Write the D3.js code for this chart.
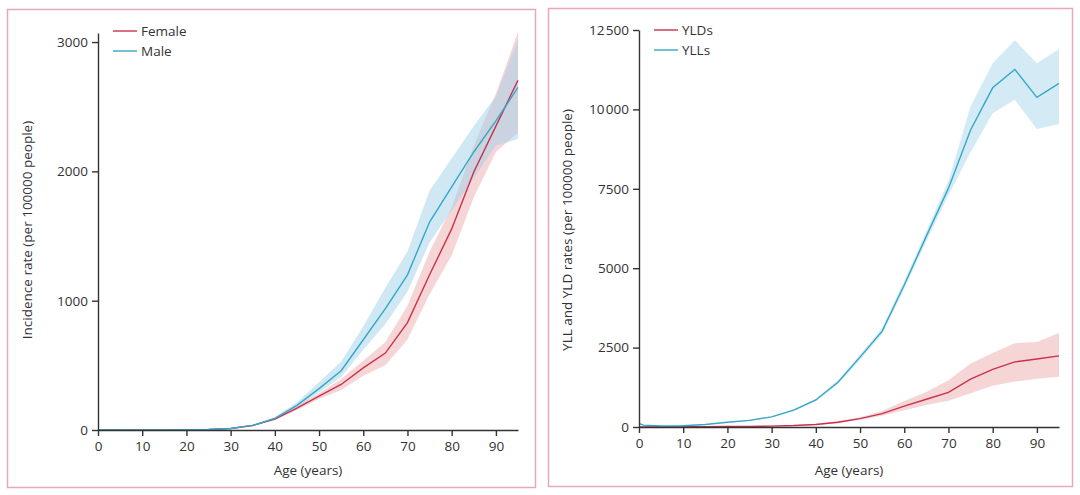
<!DOCTYPE html>
<html>
<head>
<meta charset="utf-8">
<script src="https://cdn.jsdelivr.net/npm/d3@7"></script>
<style>
body { margin:0; background:#fff; }
text { font-family: "Open Sans", "DejaVu Sans", sans-serif; fill:#333; }
</style>
</head>
<body>
<svg id="chart"></svg>
<script>
// ages (years) at each point
var ages = [0, 1, 5, 10, 15, 20, 25, 30, 35, 40, 45, 50, 55, 60, 65, 70, 75, 80, 85, 90, 95];

// incidence per 100000
var female    = [3, 2, 1, 1, 1, 2, 4, 12, 35, 85, 170, 262, 352, 480, 595, 830, 1200, 1555, 1995, 2350, 2705];
var femaleLow = [2, 1, 0, 0, 0, 1, 3, 10, 31, 78, 155, 240, 310, 420, 500, 700, 1050, 1350, 1800, 2150, 2300];
var femaleUp  = [4, 3, 2, 2, 2, 3, 5, 14, 39, 92, 185, 285, 395, 535, 680, 960, 1380, 1720, 2200, 2600, 3080];
var male      = [3, 2, 1, 1, 1, 2, 4, 12, 36, 90, 190, 320, 458, 698, 938, 1200, 1608, 1880, 2150, 2390, 2650];
var maleLow   = [2, 1, 0, 0, 0, 1, 3, 10, 32, 82, 172, 290, 410, 620, 820, 1070, 1450, 1700, 1950, 2200, 2250];
var maleUp    = [4, 3, 2, 2, 2, 3, 5, 14, 40, 98, 215, 370, 530, 800, 1100, 1380, 1850, 2100, 2350, 2580, 3020];

// YLD / YLL rates per 100000
var ylds    = [5, 5, 6, 8, 10, 14, 20, 28, 45, 80, 150, 265, 420, 655, 875, 1090, 1510, 1815, 2050, 2140, 2240];
var yldsLow = [3, 3, 4, 5, 7, 10, 14, 20, 34, 62, 120, 225, 355, 530, 690, 830, 1060, 1300, 1430, 1520, 1580];
var yldsUp  = [8, 8, 9, 11, 14, 19, 27, 37, 58, 100, 185, 310, 500, 820, 1100, 1470, 2000, 2330, 2640, 2680, 2960];
var ylls    = [110, 60, 30, 40, 80, 150, 210, 320, 530, 850, 1410, 2200, 3020, 4470, 6010, 7520, 9350, 10680, 11260, 10380, 10820];
var yllsLow = [95, 52, 26, 35, 72, 138, 195, 300, 500, 810, 1350, 2120, 2920, 4350, 5850, 7300, 8650, 9880, 10300, 9380, 9540];
var yllsUp  = [125, 68, 34, 45, 88, 162, 225, 340, 560, 890, 1470, 2280, 3120, 4600, 6170, 7750, 10100, 11450, 12180, 11450, 11900];

var xTicks = [0, 10, 20, 30, 40, 50, 60, 70, 80, 90];
var leftTicks = [0, 1000, 2000, 3000];
var rightTicks = [0, 2500, 5000, 7500, 10000, 12500];

var red = "#c8324e", blue = "#35a7c7";

var svg = d3.select("#chart").attr("width", 1080).attr("height", 495);

// pink frames
svg.append("rect").attr("x", 7.5).attr("y", 9.5).attr("width", 528).attr("height", 478)
    .attr("fill", "none").attr("stroke", "#e6a8bf").attr("stroke-width", 1.5);
svg.append("rect").attr("x", 548.5).attr("y", 8.5).attr("width", 524).attr("height", 478)
    .attr("fill", "none").attr("stroke", "#e6a8bf").attr("stroke-width", 1.5);

function fmt(d){
    var s = String(d);
    if (d >= 10000) s = s.slice(0, s.length - 3) + "\u200a" + s.slice(-3);
    return s;
}

function panel(opt){
    var g = svg.append("g");
    var x = d3.scaleLinear().domain([0, 95]).range(opt.xr);
    var y = d3.scaleLinear().domain([0, opt.ymax]).range([opt.y0, opt.ytop]);

    // bands first
    opt.series.forEach(function(s){
        var area = d3.area()
            .x(function(d, i){ return x(ages[i]); })
            .y0(function(d, i){ return y(s.low[i]); })
            .y1(function(d, i){ return y(s.up[i]); });
        g.append("path").datum(s.vals).attr("d", area)
            .attr("fill", s.band).attr("fill-opacity", s.op);
    });
    opt.series.forEach(function(s){
        var line = d3.line()
            .x(function(d, i){ return x(ages[i]); })
            .y(function(d){ return y(d); });
        g.append("path").datum(s.vals).attr("d", line)
            .attr("fill", "none").attr("stroke", s.color).attr("stroke-width", 1.4);
    });

    var ax = g.append("g").attr("transform", "translate(0," + opt.y0 + ")")
        .call(d3.axisBottom(x).tickValues(xTicks).tickSize(6).tickPadding(5).tickSizeOuter(0));
    var ay = g.append("g").attr("transform", "translate(" + opt.xr[0] + ",0)")
        .call(d3.axisLeft(y).tickValues(opt.yTicks).tickFormat(fmt).tickSize(6).tickPadding(4).tickSizeOuter(0));
    [ax, ay].forEach(function(a){
        a.selectAll("path,line").attr("stroke", "#333").attr("stroke-width", 1.4);
        a.selectAll("text").style("font-family", "'Open Sans', sans-serif").style("font-size", "13.5px").attr("fill", "#333");
    });

    g.append("text").attr("x", (opt.xr[0] + opt.xr[1]) / 2).attr("y", 475)
        .attr("text-anchor", "middle").style("font-size", "13.5px").text("Age (years)");
    g.append("text").attr("transform", "translate(" + opt.titleX + ",230) rotate(-90)")
        .attr("text-anchor", "middle").style("font-size", "13.5px").text(opt.title);

    // legend
    opt.series.forEach(function(s, i){
        var ly = opt.legY + i * 20;
        g.append("line").attr("x1", opt.xr[0] + 15).attr("x2", opt.xr[0] + 39)
            .attr("y1", ly).attr("y2", ly).attr("stroke", s.color).attr("stroke-width", 1.4);
        g.append("text").attr("x", opt.xr[0] + 43).attr("y", ly + 4.5)
            .style("font-size", "13.5px").text(s.name);
    });
}

panel({
    xr: [98, 518], y0: 430, ytop: 33, ymax: 3070, yTicks: leftTicks,
    title: "Incidence rate (per 100000 people)", titleX: 32, legY: 31,
    series: [
        { name: "Female", vals: female, low: femaleLow, up: femaleUp, color: red, band: "#e79a9a", op: 0.42 },
        { name: "Male", vals: male, low: maleLow, up: maleUp, color: blue, band: "#9fd2ea", op: 0.5 }
    ]
});

panel({
    xr: [639, 1059], y0: 427, ytop: 30, ymax: 12500, yTicks: rightTicks,
    title: "YLL and YLD rates (per 100000 people)", titleX: 572, legY: 30,
    series: [
        { name: "YLDs", vals: ylds, low: yldsLow, up: yldsUp, color: red, band: "#e79a9a", op: 0.42 },
        { name: "YLLs", vals: ylls, low: yllsLow, up: yllsUp, color: blue, band: "#9fd2ea", op: 0.45 }
    ]
});
</script>
</body>
</html>
